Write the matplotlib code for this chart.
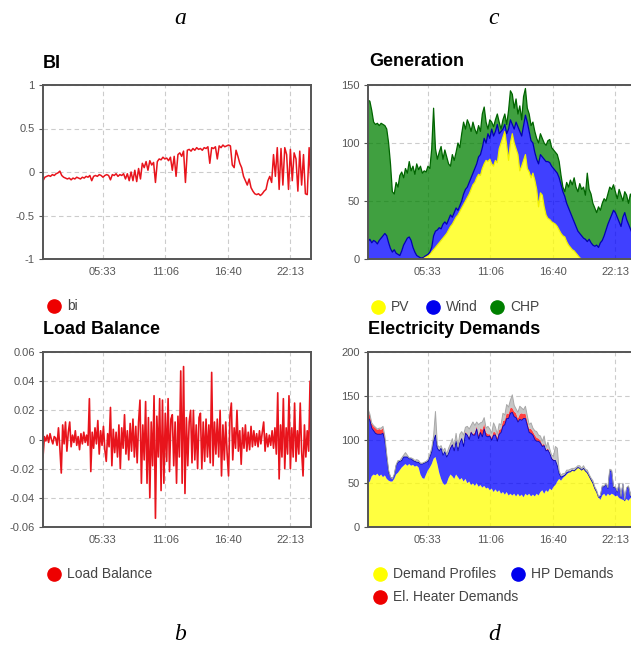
import numpy as np
import matplotlib.pyplot as plt
from matplotlib.lines import Line2D

plt.rcParams["font.family"] = ["Liberation Sans", "DejaVu Sans"]

time_ticks = [333.33, 666.67, 1000.0, 1333.33]
time_labels = ["05:33", "11:06", "16:40", "22:13"]

# balance index, 10 min steps
bi = [-0.10, -0.06, -0.05, -0.04, -0.05, -0.03, -0.04, -0.02, -0.01,
      0.01,
      -0.04, -0.06, -0.07, -0.08, -0.07, -0.09, -0.07, -0.08, -0.06, -0.07, -0.08, -0.06, -0.07,
      -0.05, -0.06, -0.04, -0.10, -0.05, -0.04, -0.05, -0.03, -0.04, -0.06, -0.04,
      -0.03, -0.04, -0.09, -0.03, -0.04, -0.02, -0.05, -0.03, -0.04, -0.02, -0.08,
      -0.02, -0.10, 0.00, -0.10, 0.02, -0.11, 0.04, -0.08,
      0.10, 0.05, 0.12, 0.02, 0.13, 0.08, 0.11, -0.12, 0.12,
      0.15, 0.14, 0.17, 0.15, 0.16, 0.13, 0.17, 0.02, 0.18,
      -0.05, 0.20, 0.22, 0.18, 0.24, -0.12, 0.25,
      0.26, 0.24, 0.27, 0.25, 0.28, 0.26, 0.27, 0.25, 0.28, 0.27, 0.29, 0.10,
      0.28, 0.27, 0.29, 0.15, 0.30, 0.28, 0.31, 0.29, 0.30, 0.31, 0.30,
      0.08, 0.05, 0.25, 0.18, 0.10, 0.05, -0.05,
      -0.10, -0.15, -0.08, -0.18, -0.22,
      -0.25, -0.26, -0.25, -0.27, -0.25, -0.22, -0.20,
      -0.10, -0.05, -0.12,
      0.20, -0.05, 0.28, -0.20, 0.27, -0.15, 0.28, 0.20, -0.20, 0.26, -0.10,
      0.22, 0.15, -0.22, 0.24, -0.15, 0.20, -0.25, -0.26, 0.28, -0.15]

# load balance, 7.5 min steps
load_balance = [
    -0.012, 0.002, -0.001, 0.003, -0.002, 0.004, 0.000, -0.003, 0.002, 0.001,
    -0.004, 0.008, -0.006, -0.023, 0.010, -0.003, 0.012, -0.008, 0.005, 0.012,
    -0.005, 0.003, -0.002, 0.006, -0.004, 0.002, -0.007, 0.004, -0.003, 0.005, -0.002, 0.003, -0.004,
    0.028, -0.022, 0.005,
    -0.006, 0.008, -0.003, 0.013, -0.010, 0.006, -0.004, 0.009, -0.007, -0.015, 0.004, -0.005,
    0.022, -0.018, 0.007, -0.009, 0.005, -0.012, 0.010, -0.020, 0.008, -0.006,
    0.017, -0.010, 0.006, -0.014, 0.011, -0.008, 0.014, -0.012, 0.009, -0.016, 0.012,
    0.027, -0.030, 0.010, -0.014, 0.026, -0.030, 0.015, -0.040, 0.012, -0.018,
    0.030, -0.054, 0.016, -0.012, 0.028, -0.035,
    0.027, -0.030, 0.018, -0.015, 0.028, -0.022, 0.014, 0.017, -0.018, 0.012, -0.030, 0.016, -0.012, 0.047, -0.030,
    0.050, -0.037, 0.015, -0.018, 0.012, 0.020, -0.016, 0.020, -0.014, 0.010, -0.020, 0.015,
    0.018, -0.020, 0.012, -0.015, 0.014, -0.012, 0.010, -0.016, 0.046, -0.018,
    0.012, -0.010, 0.014, -0.012, 0.020, -0.025, 0.010, -0.014, 0.012, -0.010, -0.025, 0.016, 0.025, -0.014, 0.008, -0.006,
    0.020, -0.008, 0.006, -0.017, 0.008, -0.006, 0.010, -0.008, 0.005, -0.007, 0.009, -0.005, 0.006, -0.004,
    0.004, -0.005, 0.006, -0.003, 0.005, 0.012, -0.008, 0.004, -0.005, 0.003, -0.004, 0.006, -0.006, 0.008, -0.010,
    0.032, -0.027, 0.010, -0.012, 0.028, -0.020, 0.008, -0.010,
    0.030, -0.020, 0.008, -0.012, 0.025, -0.015, 0.006, -0.010, 0.025, -0.008, -0.025, 0.010, -0.012, 0.006, -0.008, 0.040, -0.015]

# generation, 10 min steps
pv = [0] * 29 + [
    1, 2, 2, 3, 4, 6, 8, 10, 12, 14, 16, 18, 20, 22, 25, 28, 30, 33, 36, 38,
    41, 44, 47, 50, 53, 56, 60, 64, 66, 70, 73, 72, 78, 82, 85, 84, 86, 82, 80, 85, 83,
    95, 100, 105, 110, 98, 85, 100, 108, 100, 95, 90, 76, 80, 85, 90, 78, 75, 70, 74, 68, 60, 45,
    57, 55, 45, 38, 35, 34, 32, 31, 30, 28, 25, 22, 20, 19,
    15, 12, 10, 8, 7, 5, 3, 1] + [0] * 30
wind = [15, 17, 14, 16, 15, 13, 16, 18, 20, 22, 20, 14, 9, 6, 8, 5, 4, 3, 7, 12,
        15, 18, 19, 16, 10, 6, 3, 2, 1,
        0, 0, 1, 1, 2, 4, 12, 14, 13, 13, 10, 12, 12, 8, 9, 10, 6, 7, 8, 4, 5, 6,
        9, 10, 9, 10, 10, 10, 12, 12, 15, 18, 18, 22, 15, 24, 18, 30, 26, 25, 33,
        13, 10, 7, 6, 10, 27, 20, 8, 12, 23, 24, 34, 26, 30, 34, 40, 35, 32, 26, 24, 26, 37,
        33, 33, 41, 46, 49, 49, 48, 47, 46, 46, 45, 42, 38, 35,
        33, 32, 30, 28, 25, 23, 21, 21,
        20, 18, 17, 15, 17, 14, 12, 11, 12, 10, 14, 16, 20, 25, 30, 34, 38, 42, 40, 36,
        32, 28, 36, 40, 34, 30, 26, 22, 20, 18]
chp = [122, 119, 114, 102, 101, 104, 99, 99, 96, 93, 92, 86, 73, 52, 48, 61, 58, 69, 68, 58,
       63, 56, 65, 60, 70, 67, 79, 75, 79,
       73, 74, 72, 76, 72, 85, 110, 71, 61, 65, 71, 56, 62, 58, 48, 42, 54, 45, 48, 58, 50, 58,
       62, 52, 58, 50, 40, 44, 34, 26, 27, 20, 29, 27, 18, 4, 16, 6, 8, 10, 9,
       10, 2, 8, 9, 8, 16, 25, 26, 18, 20, 11, 22, 14, 25, 23, 12, 15, 13, 18, 18, 18, 18,
       18, 16, 14, 14, 18, 20, 16, 16, 16, 16, 14, 8, 4, 4,
       18, 18, 28, 28, 38, 34, 34, 43,
       40, 44, 38, 59, 43, 42, 36, 33, 28, 35, 28, 32, 32, 25, 26, 28, 22, 22, 18, 16,
       28, 27, 14, 18, 21, 18, 30, 30, 30, 28]

# electricity demands, 10 min steps
demand_profiles = [50, 52, 58, 60, 59, 61, 58, 60, 57, 59,
                   55, 53, 52, 52, 55, 60, 62, 65, 68, 70,
                   72, 70, 72, 70, 71, 69, 70, 68, 60, 56,
                   55, 60, 65, 68, 72, 78, 80, 72, 62, 55,
                   50, 48, 50, 56, 60, 58, 55, 60, 57, 54,
                   56, 52, 55, 50, 52, 48, 50, 47, 50, 46,
                   48, 45, 47, 44, 45, 42, 44, 40, 43, 40,
                   42, 38, 40, 37, 40, 36, 38, 36, 38, 35,
                   38, 35, 37, 34, 38, 36, 38, 35, 37, 35,
                   38, 36, 40, 42, 38, 42, 40, 44, 42, 46,
                   48, 52, 55, 53, 56, 58, 60, 62, 63, 65,
                   64, 66, 68, 67, 65, 67, 64, 62, 58, 54,
                   50, 44, 40, 34, 31, 36, 38, 35, 38, 36,
                   38, 37, 35, 36, 33, 32, 31, 30, 32, 30,
                   33, 32, 34, 33]
hp_demands = [75, 70, 55, 50, 48, 45, 48, 46, 50, 40,
              25, 10, 5, 3, 4, 10, 12, 10, 8, 10,
              8, 10, 6, 8, 5, 6, 4, 6, 12, 16,
              18, 14, 10, 12, 14, 20, 25, 18, 25, 35,
              32, 38, 30, 28, 30, 36, 32, 38, 30, 42,
              45, 40, 52, 55, 48, 60, 55, 58, 62, 55,
              60, 58, 65, 60, 58, 62, 55, 65, 62, 58,
              64, 70, 75, 80, 84, 88, 92, 95, 88, 90,
              82, 88, 85, 90, 86, 80, 70, 72, 68, 65,
              60, 62, 56, 50, 55, 45, 48, 40, 36, 30,
              28, 18, 6, 4, 2, 1, 2, 1, 0, 0,
              0, 0, 0, 0, 0, 0, 0, 0, 0, 0,
              0, 0, 0, 0, 4, 10, 8, 14, 6, 28,
              26, 8, 10, 4, 16, 2, 18, 0, 12, 16,
              2, 14, 15, 18]
heater_demands = [8, 6, 5, 5, 6, 5, 6, 5, 6, 4,
                  2, 1, 0, 0, 0, 0, 0, 0, 0, 0,
                  0, 0, 0, 0, 0, 0, 0, 0, 0, 0,
                  0, 0, 0, 0, 0, 0, 1, 0, 0, 0,
                  0, 0, 0, 0, 1, 1, 1, 1, 0, 1,
                  1, 1, 2, 1, 2, 2, 1, 3, 3, 4,
                  5, 8, 6, 4, 3, 2, 3, 4, 3, 4,
                  5, 4, 6, 5, 6, 5, 6, 5, 6, 5,
                  4, 6, 8, 5, 6, 5, 4, 5, 4, 5,
                  4, 3, 3, 2, 2, 1, 2, 1, 1, 1] + [0] * 44
other_demands = [2, 1, 1, 1, 1, 1, 1, 2, 2, 1,
                 1, 1, 0, 0, 1, 1, 2, 1, 3, 2,
                 5, 2, 1, 1, 2, 1, 3, 2, 1, 1,
                 1, 1, 2, 3, 4, 6, 26, 4, 4, 3,
                 5, 4, 3, 6, 4, 6, 4, 8, 5, 9,
                 7, 12, 5, 9, 10, 6, 14, 8, 5, 12,
                 6, 9, 7, 5, 9, 6, 5, 10, 6, 4,
                 7, 5, 9, 6, 10, 8, 9, 15, 7, 5,
                 7, 9, 6, 5, 8, 6, 5, 7, 4, 5,
                 7, 4, 5, 4, 9, 3, 7, 4, 3, 4,
                 16, 20, 3, 2, 3, 2, 3, 2, 3, 2,
                 3, 2, 2, 3, 2, 3, 2, 3, 2, 2,
                 3, 2, 2, 1, 1, 1, 1, 1, 1, 2,
                 1, 1, 1, 1, 1, 1, 1, 1, 1, 1,
                 1, 1, 1, 1]

t10 = 15 + 10 * np.arange(len(bi))
t_lb = 15 + 7.5 * np.arange(len(load_balance))

W, H = 631, 647
fig = plt.figure(figsize=(W / 100, H / 100), dpi=100)


def px_axes(left, top, width, bottom):
    return fig.add_axes([left / W, 1 - bottom / H, width / W, (bottom - top) / H])


def style(ax, yticks, ylabels):
    ax.set_xlim(15, 1445)
    ax.set_ylim(yticks[0], yticks[-1])
    ax.set_xticks(time_ticks, time_labels)
    ax.set_yticks(yticks, ylabels)
    ax.grid(True, color="#cccccc", linestyle=(0, (4, 3)), linewidth=0.8)
    ax.set_axisbelow(True)
    for s in ax.spines.values():
        s.set_color("#555555")
        s.set_linewidth(1.4)
    ax.tick_params(axis="x", length=0, pad=6, labelsize=8, labelcolor="#555555")
    ax.tick_params(axis="y", length=3, pad=3, labelsize=8, labelcolor="#555555",
                   color="#555555")


def title(x, y, text):
    fig.text(x / W, 1 - y / H, text, fontsize=13, fontweight="bold", va="center")


def legend_item(x, y, color, label):
    fig.add_artist(Line2D([x / W], [1 - y / H], marker="o", markersize=9.5, linestyle="none",
                          color=color, transform=fig.transFigure))
    fig.text((x + 13) / W, 1 - y / H, label, fontsize=10, color="#444444", va="center")


# a: BI
ax = px_axes(43, 85, 268, 259)
ax.plot(t10, bi, color="#e8141c", linewidth=1.1)
style(ax, [-1, -0.5, 0, 0.5, 1], ["-1", "-0.5", "0", "0.5", "1"])
title(43, 63, "BI")
legend_item(54, 306, "#ee0000", "bi")

# b: Load balance
ax = px_axes(43, 352, 268, 527)
ax.plot(t_lb, load_balance, color="#e8141c", linewidth=1.2)
style(ax, [-0.06, -0.04, -0.02, 0, 0.02, 0.04, 0.06],
      ["-0.06", "-0.04", "-0.02", "0", "0.02", "0.04", "0.06"])
title(43, 329, "Load Balance")
legend_item(54, 574, "#ee0000", "Load Balance")

# c: Generation
ax = px_axes(368, 85, 268, 259)
gen = np.vstack([pv, wind, chp])
ax.stackplot(t10, gen, colors=["#ffff00", "#0000ff", "#008000"], alpha=0.75, linewidth=0)
tops = gen.cumsum(axis=0)
for top, c in zip(tops, ["#f0f000", "#0000b0", "#006400"]):
    ax.plot(t10, top, color=c, linewidth=0.9)
style(ax, [0, 50, 100, 150], ["0", "50", "100", "150"])
title(369, 62, "Generation")
legend_item(378, 307, "#ffff00", "PV")
legend_item(433, 307, "#0000ee", "Wind")
legend_item(497, 307, "#008000", "CHP")

# d: Electricity demands
ax = px_axes(368, 352, 268, 527)
dem = np.vstack([demand_profiles, hp_demands, heater_demands, other_demands])
ax.stackplot(t10, dem, colors=["#ffff00", "#0000ff", "#ff0000", "#b4b4b4"], alpha=0.75,
             linewidth=0)
tops = dem.cumsum(axis=0)
ax.plot(t10, tops[1], color="#0000b0", linewidth=0.6)
ax.plot(t10, tops[3], color="#a8a8a8", linewidth=0.7)
style(ax, [0, 50, 100, 150, 200], ["0", "50", "100", "150", "200"])
title(368, 330, "Electricity Demands")
legend_item(380, 574, "#ffff00", "Demand Profiles")
legend_item(518, 574, "#0000ee", "HP Demands")
legend_item(380, 597, "#ee0000", "El. Heater Demands")

for x, y, s in [(180, 18, "a"), (494, 18, "c"), (180, 635, "b"), (494, 635, "d")]:
    fig.text(x / W, 1 - y / H, s, fontsize=17, family="Liberation Serif", style="italic",
             ha="center", va="center")

fig.savefig("out.png", dpi=100)
